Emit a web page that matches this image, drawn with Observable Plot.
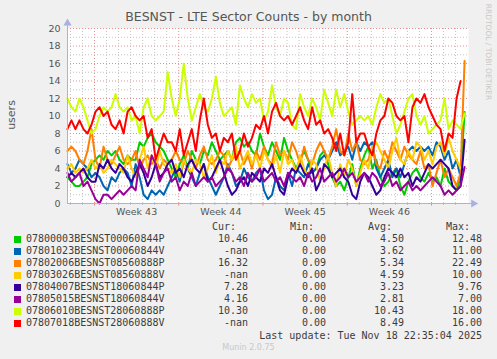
<!DOCTYPE html>
<html><head><meta charset="utf-8">
<script src="https://cdn.jsdelivr.net/npm/d3@7"></script>
<script src="https://cdn.jsdelivr.net/npm/@observablehq/plot@0.6"></script>
<style>
body{margin:0;background:#f0f0f0;}
#wrap{position:relative;width:497px;height:359px;background:#f0f0f0;overflow:hidden;font-family:"DejaVu Sans",sans-serif;}
.abs{position:absolute;white-space:pre;}
.mono{font-family:"DejaVu Sans Mono",monospace;font-size:10px;color:#3c3c3c;line-height:12px;height:12px;}
#plot{position:absolute;left:0;top:0;}
</style></head><body><div id="wrap"><div id="plot"></div></div>
<script>
const title = "BESNST - LTE Sector Counts - by month";
const yLabel = "users";
const names = ["07800003BESNST00060844P","07801023BESNST00060844V","07802006BESNST08560888P","07803026BESNST08560888V","07804007BESNST18060844P","07805015BESNST18060844V","07806010BESNST28060888P","07807018BESNST28060888V"];
const colors = ["#00CC00","#0066B3","#FF8000","#FFCC00","#330099","#990099","#CCFF00","#FF0000"];
const curVals = ["10.46","-nan","16.32","-nan","7.28","4.16","10.30","-nan"];
const minVals = ["0.00","0.00","0.09","0.00","0.00","0.00","0.00","0.00"];
const avgVals = ["4.50","3.62","5.34","4.59","3.23","2.81","10.43","8.49"];
const maxVals = ["12.48","11.00","22.49","10.00","9.76","7.00","18.00","16.00"];
const lastUpdate = "Last update: Tue Nov 18 22:35:04 2025";
const version = "Munin 2.0.75";
const watermark = "RRDTOOL / TOBI OETIKER";
const weekLabels = ["Week 43","Week 44","Week 45","Week 46"];
const yTicks = [0,2,4,6,8,10,12,14,16,18,20];

const green = [3,2.5,2,2,2.5,3,4.5,5,5.5,5,6,5.5,6,5,4.5,5.5,5,5,7,6.5,7.5,8,7,6.5,6,5,
 4,3,4.5,5.5,4,6,5,4.5,6,5.5,7,6,5,5.5,6,5,7,7.5,6.5,7,6,5.5,8,6.5,5.5,
 7,6,5,7.5,6,5,4,5,6,5,3.5,4,5.5,6,4.5,3,2,2.5,1.5,3,4.5,2,4,5.5,
 6.5,4,5,3,2,2.5,3.5,4,2,1,2.5,3.5,4,3,2.5,3.5,2.5,3,2,4,2.5,2,1.5,3,10.46];
const blue = [4.5,3.5,4,5,4.5,4,3,3.5,3,2,1.5,3,2.5,3.5,4,3.5,2,4.5,3,1,0.5,1.5,1,1.5,1,2,
 3,4,2.5,5,4,3,2,3.5,4.5,3,2,1,2,3,4.5,3.5,2,2.5,4,3,2.5,3.5,4,1.5,0.5,
 1,3,2,1.5,3.5,2,4,3.5,3,4.5,3.5,4,5,5.5,5,6,7,5.5,6,6.5,5,7,6,7,
 6.5,7,4,3,4,5,3,4,3,4.5,6,6.5,6,6.5,6,6.5,5.5,7,6.5,5,6,4,5,3,null];
const orange = [6,6.5,6,5,4.5,6,8.5,5,4,6.5,5,4.5,5.5,6.5,5,4.5,5,6,4,5,5.5,4.5,5,4,5,4.5,
 5,6,5,4.5,6,5,4,5.5,6.5,5,4.5,5,6,5.5,4,5,5.5,6,4.5,5.5,4,6,5,6.5,5,
 4.5,7,5.5,6,5,7,6,4.5,6.5,5,4.5,6,7,6,5,6.5,8.5,6,5.5,8,6,7,5,4.5,
 5,6.5,4.5,4,6,5,7,6,5,6.5,5.5,5,4.5,6,4,4.5,2,3.5,5,3,4,3,2,3.5,16.3];
const yellow = [4,4.5,3.5,4,3.5,4,5,4,4.5,3.5,4,5,4.5,4,3.5,5.5,4,3,5,6.5,4,5.5,4,6,4.5,4,
 3.5,4.5,3,5,4,3.5,5,4.5,3,4,5.5,3.5,5,4.5,6,5,6.5,4,5,6,4.5,5.5,4,6,5,
 4,5.5,3.5,6,4.5,5,3.5,5.5,4,3,5,4.5,2.5,4,5.5,3.5,2,4.5,3,5,4,2,3.5,5,
 4,6.5,7,6,5,4,6,7.5,5,4.5,6,5,7,6.5,5,6,4.5,6.5,7,5.5,7.5,6,5,4,null];
const indigo = [3,3.5,3,3.5,4,3,2.5,2.5,4.5,4,5,4,3.5,4.5,4,3,2.5,3.5,4.5,3.5,2,3,4.5,3,3.5,4.5,
 5,3.5,4,3,4.5,5,4,3.5,4.5,2.5,3,4,5,3.5,2,1,1.5,2.5,3,2,3.5,3,2.5,4,3.5,
 4.5,3,1.5,1,3,4,3.5,4.5,3.5,3,4,1.5,2.5,4.5,4,3,3.5,4,3,2.5,1,0.5,2.5,3.5,
 3,2,1,1.5,3,4,3.5,3,4,3,3.5,2,3,2.5,3.5,4.5,4,4.5,5,4.5,4,2,1.5,2,7.28];
const purple = [3.5,2.5,3,3.5,2,2.5,1.5,0.5,0,1,1,0.5,1,1.5,1,1.5,2,1.5,5,4,3,5.5,4.5,2.5,3.5,4,
 2.5,3,1.5,2.5,2,3.5,2,2.5,3,2.5,3,2,2.5,3,4,3.5,2.5,3,2,3.5,2.5,3,4,2.5,3,
 3.5,2.5,3,2,3.5,3,2.5,3,2,3.5,2.5,3,4,2.5,3,3.5,2.5,3,4,3,3.5,2.5,3,3.5,
 2.5,3.5,3,2,2.5,3.5,2,2.5,1.5,2,2.5,1.5,2,1.5,2,2.5,3,2.5,2,1,1.5,1,1.5,2,4.16];
const lime = [12,11,10.5,12,11,9.5,8,8.5,10,11,10.5,11,12.5,11,10.5,11,9.5,10,8,11,12,10,9.5,10,10.5,15,
 12,10,12,16,12,9.5,11,12.5,11,10.5,12,14.5,11.5,10,10.5,11,9,13.5,12,11,12.5,11.5,12,9.5,10.5,
 13.5,11,10,12,11.5,9,8.5,12.5,11,10,12,11,9.5,13,11.5,10,13,11,12.5,10.5,9,9.5,10,9.5,
 10,9,11,12.5,11.5,12,10,8,9,10.5,12,12.5,10,9,10,8,8.5,9,9.5,12,8.5,9.5,9,8.5,10.3];
const red = [8.5,9.5,8.5,9.5,8.5,8,9,10.5,11,10,10.5,9,8.5,9.5,8,10.5,11,10,9.5,10,7.5,8.5,5,6.5,8,7,
 7,6,8.5,5.5,7,8.5,6,9.5,12,9,7.5,8,6,7.5,7,8,5,6,8,6.5,7.5,9,8.5,10,8,
 10.5,11.5,10,9.5,10,9,10,11,9.5,8.5,11,9,9.5,8,8.5,7.5,6,8,5.5,7,12.5,7,8,8,
 6.5,5.5,8,9.5,10,12,11.5,10,9.5,10,7,11,12,11.5,12.5,11,10,9,8.5,6,8,7.5,12,14,null];
const series = [green, blue, orange, yellow, indigo, purple, lime, red];

const start = Date.UTC(2025, 9, 17, 18, 0);
const stepMs = 8 * 3600e3;
const rows = [];
series.forEach((vals, k) => vals.forEach((v, i) => rows.push({t: new Date(start + i * stepMs), v, name: names[k]})));

const xDomain = [new Date(Date.UTC(2025, 9, 17, 18, 10)), new Date(Date.UTC(2025, 10, 20, 1, 47))];
const weekStarts = d3.utcMondays(new Date(Date.UTC(2025, 9, 19)), new Date(Date.UTC(2025, 10, 19)));
const weekMid = weekStarts.slice(0, 4).map(d => d3.utcHour.offset(d, 84));
const days = d3.utcDays(new Date(Date.UTC(2025, 9, 18)), new Date(Date.UTC(2025, 10, 20))).filter(d => d.getUTCDay() !== 1);
const yMinor = [1,3,5,7,9,11,13,15,17,19];
const yMajor = yTicks.filter(v => v > 0);
const axisColor = "#aab0e6";
const redGrid = "#e58f8f";
const grayGrid = "#c4c4c4";
const xEnd = d3.utcHour.offset(xDomain[1], 10);

const plot = Plot.plot({
  width: 497, height: 225,
  marginLeft: 67, marginRight: 29, marginTop: 28, marginBottom: 22,
  style: {background: "transparent", fontFamily: "DejaVu Sans, sans-serif", fontSize: "9px", color: "#555"},
  x: {type: "utc", domain: xDomain},
  y: {domain: [0, 20]},
  color: {domain: names, range: colors},
  marks: [
    Plot.frame({fill: "white", stroke: null}),
    Plot.ruleY(yMinor, {stroke: grayGrid, strokeDasharray: "1,2"}),
    Plot.ruleX(days, {stroke: grayGrid, strokeDasharray: "1,2"}),
    Plot.ruleY(yMajor, {stroke: redGrid, strokeDasharray: "1,2"}),
    Plot.ruleX(weekStarts, {stroke: redGrid, strokeDasharray: "1,2"}),
    Plot.ruleX(days, {y1: 0, y2: -0.2, stroke: axisColor}),
    Plot.ruleX(weekStarts, {y1: 0, y2: -0.3, stroke: redGrid}),
    Plot.line(rows, {x: "t", y: "v", z: "name", stroke: "name", strokeWidth: 2, curve: "linear"}),
    Plot.ruleY([0], {x1: xDomain[0], x2: xEnd, stroke: axisColor}),
    Plot.ruleX([xDomain[0]], {y1: 0, y2: 20.6, stroke: axisColor}),
    Plot.dot([0], {x: () => xEnd, y: 0, symbol: "triangle", rotate: 90, r: 3, fill: axisColor, stroke: null}),
    Plot.dot([0], {x: () => xDomain[0], y: 20.6, symbol: "triangle", r: 3, fill: axisColor, stroke: null}),
    Plot.axisY(yTicks, {tickSize: 0, tickPadding: 7, label: null, fontSize: 9.5, color: "#555"}),
    Plot.axisX(weekMid, {tickSize: 0, tickPadding: 5, label: null, fontSize: 9.5, color: "#555",
      tickFormat: d => weekLabels[weekMid.findIndex(w => +w === +d)]})
  ]
});
document.getElementById("plot").appendChild(plot);

const wrap = document.getElementById("wrap");
function add(text, style, cls) {
  const el = document.createElement("div");
  el.className = "abs " + (cls || "");
  el.textContent = text;
  Object.assign(el.style, style);
  wrap.appendChild(el);
  return el;
}
add(title, {left: "0px", top: "9px", width: "497px", textAlign: "center", fontSize: "12.5px", color: "#555"});
add(yLabel, {left: "11px", top: "115px", fontSize: "11px", color: "#555", transform: "translate(-50%,-50%) rotate(-90deg)"});
add(watermark, {left: "488px", top: "52px", fontSize: "7.5px", color: "#c8c8c8", transform: "translate(-50%,-50%) rotate(90deg)"});

const colRight = [248, 326, 404, 482];
const headers = ["Cur:", "Min:", "Avg:", "Max:"];
headers.forEach((h, j) => add(h, {left: (colRight[j] - 12 - 100) + "px", width: "100px", textAlign: "right", top: "221px"}, "mono"));
names.forEach((n, k) => {
  const top = 233 + k * 12;
  const sq = document.createElement("div");
  Object.assign(sq.style, {position: "absolute", left: "14px", top: (top + 3) + "px", width: "7px", height: "7px", background: colors[k]});
  wrap.appendChild(sq);
  add(n, {left: "26px", top: top + "px"}, "mono");
  [curVals[k], minVals[k], avgVals[k], maxVals[k]].forEach((v, j) =>
    add(v, {left: (colRight[j] - 100) + "px", width: "100px", textAlign: "right", top: top + "px"}, "mono"));
});
add(lastUpdate, {left: "182px", width: "300px", textAlign: "right", top: "330px"}, "mono");
add(version, {left: "0px", width: "497px", textAlign: "center", top: "343px", fontSize: "8px", color: "#c8c8c8"});
</script>
</body></html>
